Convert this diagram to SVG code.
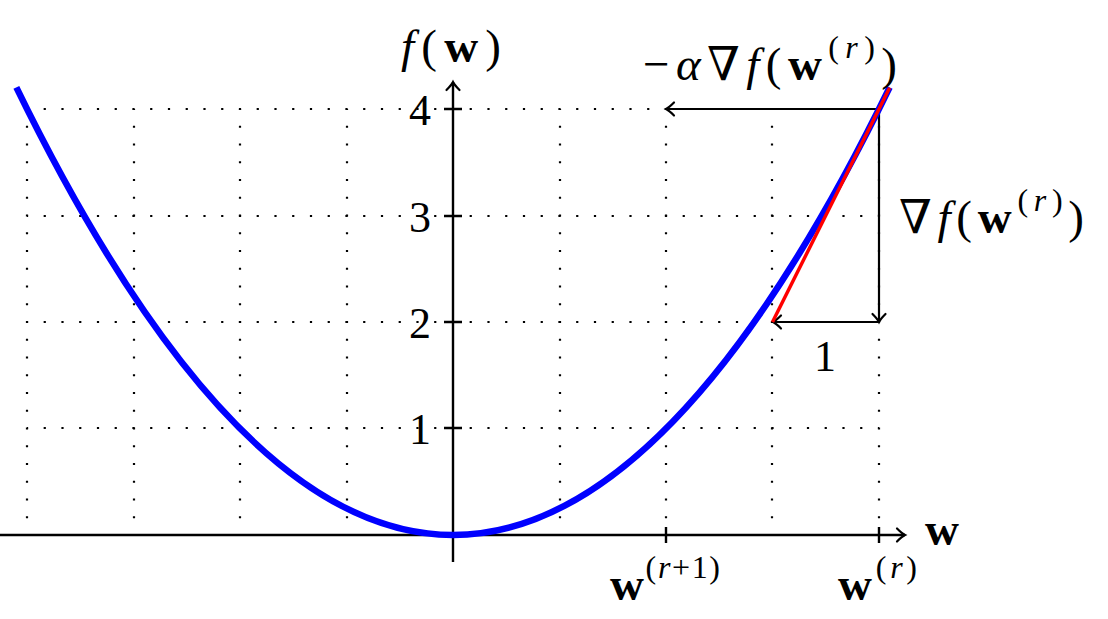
<svg xmlns="http://www.w3.org/2000/svg" width="1108" height="619" viewBox="0 0 1108 619">
<style>
text{font-family:"Liberation Serif","DejaVu Serif",serif;font-size:44px;fill:#000}
.m{font-size:47px}
.i{font-style:italic}
.b{font-weight:bold}
.s{font-size:32px}
.grid{stroke:#000;stroke-width:2.2;stroke-dasharray:2.2 15.55;stroke-dashoffset:1.1;fill:none}
.axis{stroke:#000;stroke-width:2.4;fill:none}
.conn{stroke:#000;stroke-width:2.2;fill:none}
</style>
<defs>
<marker id="arr" markerUnits="userSpaceOnUse" markerWidth="20" markerHeight="20" viewBox="-10 -10 20 20" refX="0" refY="0" orient="auto">
<path d="M -8 -6.5 Q -3 -1.5 0 0 Q -3 1.5 -8 6.5" fill="none" stroke="#000" stroke-width="2.2" stroke-linecap="round"/>
</marker>
</defs>
<rect width="1108" height="619" fill="#fff"/>
<g id="grid" class="grid">
<path d="M27 535V109M134 535V109M240 535V109M347 535V109M560 535V109M666 535V109M772 535V109M879 535V109"/>
<path d="M27 535H879M27 428H879M27 322H879M27 216H879M27 109H879"/>
</g>
<g id="axes" class="axis">
<path d="M0 535H905" marker-end="url(#arr)"/>
<path d="M453 562V82" marker-end="url(#arr)"/>
<path d="M444 428H462M444 322H462M444 216H462M444 109H462"/>
<path d="M666 527V543M879 527V543"/>
</g>
<g id="connectors" class="conn">
<path d="M879 109H666" marker-end="url(#arr)"/>
<path d="M879 109V322" marker-end="url(#arr)"/>
<path d="M879 322H773" marker-end="url(#arr)"/>
</g>
<g id="curve">
<path d="M16.35 87.43 Q453 982.57 889.65 87.43" fill="none" stroke="#0000ff" stroke-width="6.5"/>
</g>
<g id="tangent">
<path d="M772.5 322 L889.6 87.8" fill="none" stroke="#ff0000" stroke-width="3.5"/>
</g>
<g id="labels">
<text class="m" x="401" y="62" textLength="100" lengthAdjust="spacing"><tspan class="i">f</tspan>(<tspan class="b">w</tspan>)</text>
<text x="431" y="125" text-anchor="end">4</text>
<text x="431" y="232" text-anchor="end">3</text>
<text x="431" y="338" text-anchor="end">2</text>
<text x="431" y="444" text-anchor="end">1</text>
<text class="m" x="643" y="80" textLength="254" lengthAdjust="spacing">−<tspan class="i">α</tspan>∇<tspan class="i">f</tspan>(<tspan class="b">w</tspan><tspan class="s" dy="-22">(</tspan><tspan class="s i">r</tspan><tspan class="s">)</tspan><tspan dy="22">)</tspan></text>
<text class="m" x="899" y="233" textLength="185" lengthAdjust="spacing">∇<tspan class="i">f</tspan>(<tspan class="b">w</tspan><tspan class="s" dy="-22">(</tspan><tspan class="s i">r</tspan><tspan class="s">)</tspan><tspan dy="22">)</tspan></text>
<text x="825" y="371" text-anchor="middle">1</text>
<text class="m" x="925" y="545"><tspan class="b">w</tspan></text>
<text class="m" x="610" y="600" textLength="110" lengthAdjust="spacing"><tspan class="b">w</tspan><tspan class="s" dy="-22">(</tspan><tspan class="s i">r</tspan><tspan class="s">+1)</tspan></text>
<text class="m" x="838" y="600" textLength="79" lengthAdjust="spacing"><tspan class="b">w</tspan><tspan class="s" dy="-22">(</tspan><tspan class="s i">r</tspan><tspan class="s">)</tspan></text>
</g>
</svg>
